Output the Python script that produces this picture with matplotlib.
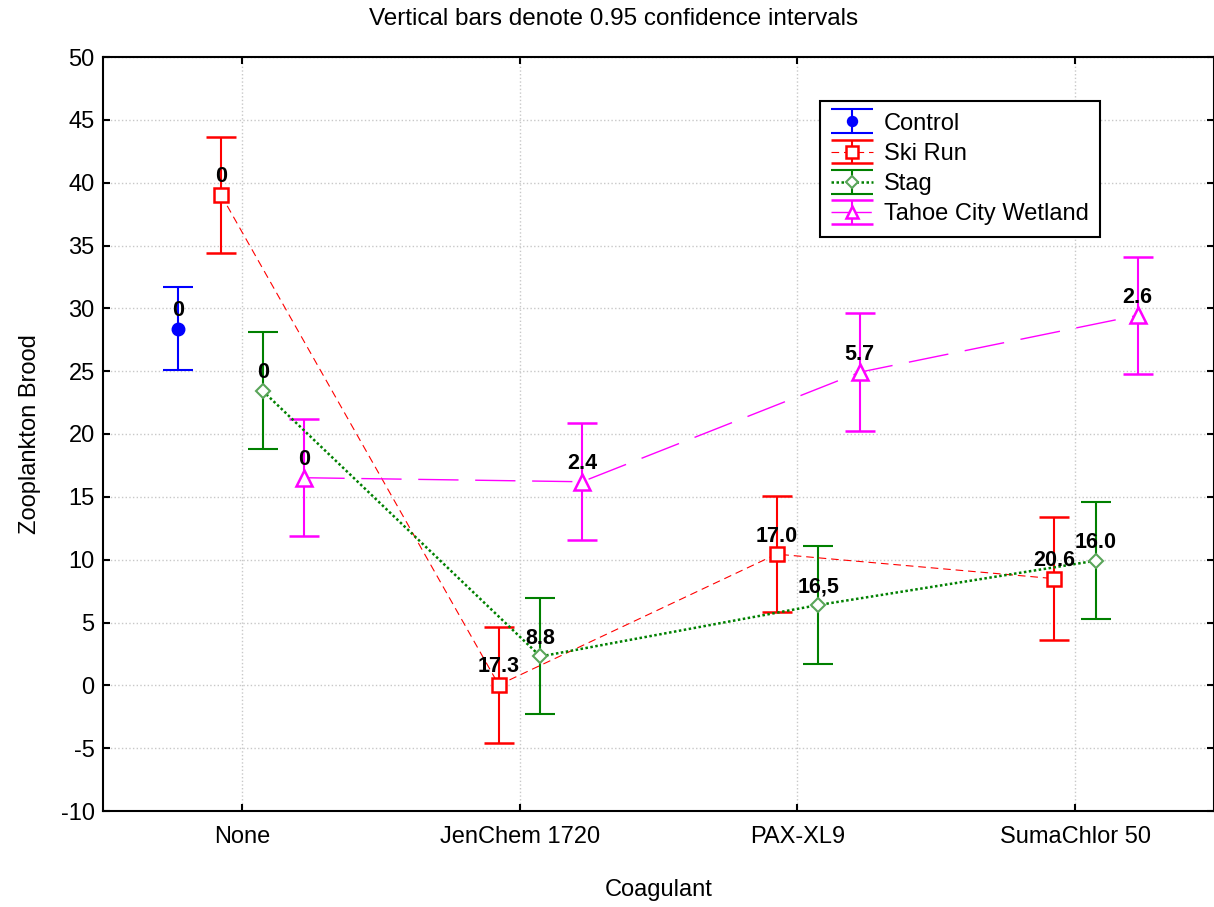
import numpy as np
import matplotlib
matplotlib.use("Agg")
import matplotlib.pyplot as plt
from matplotlib.legend_handler import HandlerErrorbar
from matplotlib.container import ErrorbarContainer

plt.rcParams['font.family'] = ['Liberation Sans', 'DejaVu Sans']
plt.rcParams['lines.scale_dashes'] = False
plt.rcParams['axes.unicode_minus'] = False

# --- data (means and half-width of 0.95 CI) ---
categories = ['None', 'JenChem 1720', 'PAX-XL9', 'SumaChlor 50']

control_mean = [28.38]
control_ci = [3.29]
control_labels = ['0']

ski_mean = [39.02, 0.03, 10.44, 8.49]
ski_ci = [4.64, 4.64, 4.63, 4.88]
ski_labels = ['0', '17.3', '17.0', '20.6']

stag_mean = [23.43, 2.30, 6.39, 9.92]
stag_ci = [4.65, 4.61, 4.70, 4.64]
stag_labels = ['0', '8.8', '16,5', '16.0']

tahoe_mean = [16.52, 16.20, 24.92, 29.44]
tahoe_ci = [4.65, 4.65, 4.68, 4.67]
tahoe_labels = ['0', '2.4', '5.7', '2.6']

# horizontal offset of each group inside a category
offsets = {'Control': -0.23, 'Ski Run': -0.075, 'Stag': 0.075, 'Tahoe City Wetland': 0.225}

fig = plt.figure(figsize=(12.14, 9.07), dpi=100)
ax = fig.add_axes([103 / 1214, 96 / 907, 1111 / 1214, 754 / 907])

series = [
    ('Control', control_mean, control_ci, control_labels,
     dict(color='#0000ff', marker='o', ms=9, mfc='#0000ff', mec='#0000ff', ls='none')),
    ('Ski Run', ski_mean, ski_ci, ski_labels,
     dict(color='#ff0000', marker='s', ms=10, mfc='white', mec='#ff0000', mew=1.8,
          ls=(0, (5.5, 3.5)), lw=0.8)),
    ('Stag', stag_mean, stag_ci, stag_labels,
     dict(color='#008000', marker='D', ms=7.5, mfc='white', mec='#5aa55a', mew=1.5,
          ls=(0, (1.8, 1.8)), lw=1.8)),
    ('Tahoe City Wetland', tahoe_mean, tahoe_ci, tahoe_labels,
     dict(color='#ff00ff', marker='^', ms=11, mfc='white', mec='#ff00ff', mew=1.8,
          ls=(0, (29, 12)), lw=1.0)),
]

for name, mean, ci, labels, style in series:
    x = np.arange(len(mean)) + offsets[name]
    ax.errorbar(x, mean, yerr=ci, capsize=10.5, elinewidth=1.5, capthick=1.5,
                ecolor=style['color'], label=name, zorder=3, **style)
    for xi, yi, lab in zip(x, mean, labels):
        ax.annotate(lab, (xi, yi), xytext=(0, 9), textcoords='offset points',
                    ha='center', va='baseline', fontsize=15.5, fontweight='bold', zorder=5)

ax.set_xlim(-0.5, 3.5)
ax.set_ylim(-10, 50)
ax.set_yticks(np.arange(-10, 51, 5))
ax.set_xticks(range(len(categories)))
ax.set_xticklabels(categories)
ax.grid(True, color='#c8c8c8', ls=':', lw=1)
ax.set_axisbelow(True)

ax.tick_params(direction='in', length=5, width=1.5, top=True, right=True, labelsize=17)
ax.tick_params(axis='x', pad=11)
ax.tick_params(axis='y', pad=6)
for sp in ax.spines.values():
    sp.set_linewidth(1.5)

ax.set_xlabel('Coagulant', fontsize=17, labelpad=22)
ax.set_ylabel('Zooplankton Brood', fontsize=17, labelpad=14)

fig.text(0.505, 1 - 19 / 907, 'Vertical bars denote 0.95 confidence intervals',
         ha='center', va='center', fontsize=17.5)


def legend_props(legend_handle, orig_handle):
    # copy style, but widen the caps so they span the whole handle
    legend_handle.update_from(orig_handle)
    if hasattr(orig_handle, 'get_marker') and orig_handle.get_marker() == '_':
        legend_handle.set_markersize(30)
    elif hasattr(orig_handle, 'get_marker') and orig_handle.get_marker() not in ('None', None, ''):
        legend_handle.set_markersize(orig_handle.get_markersize() * 0.8)


leg = ax.legend(loc='upper left', bbox_to_anchor=(0.645, 0.942), borderaxespad=0,
                fontsize=17, fancybox=False, framealpha=1, edgecolor='black',
                borderpad=0.5, labelspacing=0.35, handlelength=1.75, handletextpad=0.47,
                handler_map={ErrorbarContainer: HandlerErrorbar(update_func=legend_props)})
leg.get_frame().set_linewidth(1.5)

fig.savefig('out.png', dpi=100)
